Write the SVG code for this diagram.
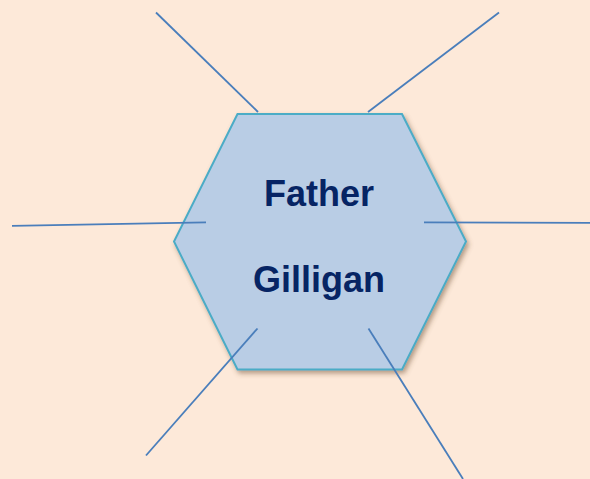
<svg xmlns="http://www.w3.org/2000/svg" width="590" height="479" viewBox="0 0 590 479">
<style>
.hex{fill:#b9cde5;stroke:#4bacc6;stroke-width:2;}
.ln{stroke:#4a7ebb;stroke-width:1.8;fill:none;}
.lbl{font-family:"Liberation Sans",Arial,sans-serif;font-weight:bold;font-size:36px;fill:#062464;text-anchor:middle;}
</style>
<defs>
<filter id="sh" x="-20%" y="-20%" width="140%" height="140%">
<feGaussianBlur in="SourceAlpha" stdDeviation="2.5"/>
<feOffset dx="2" dy="3" result="b"/>
<feFlood flood-color="#6b4a30" flood-opacity="0.5"/>
<feComposite in2="b" operator="in"/>
<feMerge><feMergeNode/><feMergeNode in="SourceGraphic"/></feMerge>
</filter>
</defs>
<rect width="590" height="479" fill="#fde9d9"/>
<g id="hexagon">
<polygon class="hex" filter="url(#sh)" points="237.5,114 402,114 466,241.5 402,369.5 237.5,369.5 174,241.5"/>
<text class="lbl" x="319" y="206">Father</text>
<text class="lbl" x="319" y="292">Gilligan</text>
</g>
<g id="connectors">
<line class="ln" x1="156" y1="12.5" x2="258" y2="112"/>
<line class="ln" x1="499" y1="12.5" x2="368" y2="112"/>
<line class="ln" x1="12" y1="225.8" x2="206" y2="222.3"/>
<line class="ln" x1="424" y1="222.3" x2="590" y2="222.8"/>
<line class="ln" x1="146" y1="455.5" x2="257.5" y2="328.5"/>
<line class="ln" x1="368.5" y1="328.5" x2="463" y2="479"/>
</g>
</svg>
